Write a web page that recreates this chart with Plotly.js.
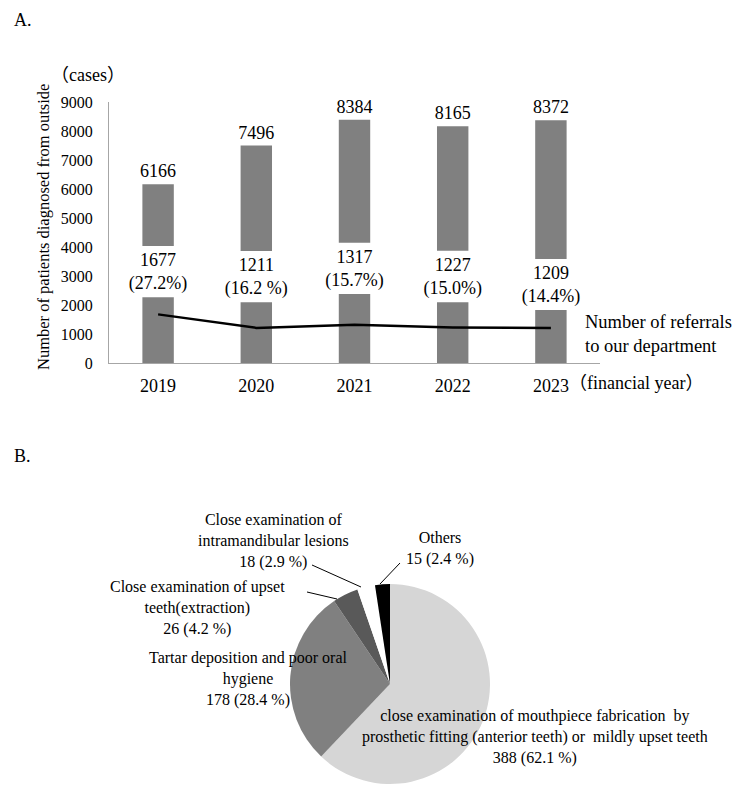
<!DOCTYPE html>
<html>
<head>
<meta charset="utf-8">
<script src="https://cdn.plot.ly/plotly-3.0.1.min.js"></script>
<style>
  html, body { margin: 0; padding: 0; background: #fff; }
  #chart { width: 750px; height: 791px; }
</style>
</head>
<body>
<div id="chart"></div>
<script>
// ---- Panel A: outside diagnoses and referrals per financial year ----
const years = ['2019', '2020', '2021', '2022', '2023'];
const totalDiagnosed = [6166, 7496, 8384, 8165, 8372];
const referrals = [1677, 1211, 1317, 1227, 1209];
const referralShare = ['(27.2%)', '(16.2 %)', '(15.7%)', '(15.0%)', '(14.4%)'];
// values where each bar is visually broken (lower piece top, upper piece bottom)
const breakLow = [2265, 2093, 2379, 2093, 1828];
const breakHigh = [4034, 3862, 4148, 3872, 3586];

// ---- Panel B: breakdown of referral reasons ----
const reasonLabels = [
  'close examination of mouthpiece fabrication  by<br>prosthetic fitting (anterior teeth) or  mildly upset teeth',
  'Tartar deposition and poor oral<br>hygiene',
  'Close examination of upset<br>teeth(extraction)',
  'Close examination of<br>intramandibular lesions',
  'Others'
];
const reasonCounts = [388, 178, 26, 18, 15];
const reasonShare = ['62.1 %', '28.4 %', '4.2 %', '2.9 %', '2.4 %'];

const W = 750, H = 791;
const px = x => x / W;
const py = y => 1 - y / H;
const SERIF = 'Liberation Serif, Noto Sans CJK JP, serif';
const BAR = '#808080';

const lowerPiece = {
  type: 'bar', x: years, y: breakLow, base: 0, width: 0.32,
  marker: { color: BAR, line: { width: 0 } },
  text: referrals.map((v, i) => v + '<br>' + referralShare[i]),
  textposition: 'outside', cliponaxis: false, constraintext: 'none',
  textfont: { family: SERIF, size: 18, color: '#000' },
  hoverinfo: 'skip', showlegend: false
};
const upperPiece = {
  type: 'bar', x: years, y: totalDiagnosed.map((t, i) => t - breakHigh[i]), base: breakHigh,
  width: 0.32, marker: { color: BAR, line: { width: 0 } },
  text: totalDiagnosed.map(String), textposition: 'outside', cliponaxis: false, constraintext: 'none',
  textfont: { family: SERIF, size: 18, color: '#000' },
  hoverinfo: 'skip', showlegend: false
};
const referralLine = {
  type: 'scatter', mode: 'lines', x: years, y: referrals,
  line: { color: '#000', width: 2.5 }, hoverinfo: 'skip', showlegend: false
};

// pie geometry: centre (390, 684), radius 100
const pie = {
  type: 'pie', values: reasonCounts, labels: reasonLabels,
  sort: false, direction: 'clockwise', rotation: 0,
  textinfo: 'none', hoverinfo: 'skip', showlegend: false,
  marker: { colors: ['#d6d6d6', '#808080', '#595959', '#ffffff', '#000000'], line: { width: 0 } },
  domain: { x: [px(290), px(490)], y: [py(784), py(584)] }
};

function note(text, x, y, opts) {
  return Object.assign({
    text: text, xref: 'paper', yref: 'paper', x: px(x), y: py(y),
    xanchor: 'center', yanchor: 'middle', showarrow: false,
    font: { family: SERIF, size: 18, color: '#000' }
  }, opts || {});
}

const pieFont = { family: SERIF, size: 16, color: '#000' };
const annotations = [
  note('A.', 12, 20, { xanchor: 'left' }),
  note('B.', 12, 456, { xanchor: 'left' }),
  note('（cases）', 88, 75),
  note('（financial year）', 636, 383),
  note('Number of referrals<br>to our department', 583, 334, { xanchor: 'left', align: 'left', font: { family: SERIF, size: 18.5, color: '#000' } }),
  note('Number of patients diagnosed from outside', 43, 227, { textangle: -90, font: { family: SERIF, size: 16.5, color: '#000' } }),
  note(reasonLabels[3] + '<br>' + reasonCounts[3] + ' (' + reasonShare[3] + ')', 273, 541, { font: pieFont }),
  note(reasonLabels[4] + '<br>' + reasonCounts[4] + ' (' + reasonShare[4] + ')', 440, 548, { font: pieFont }),
  note(reasonLabels[2] + '<br>' + reasonCounts[2] + ' (' + reasonShare[2] + ')', 197, 608, { font: pieFont }),
  note(reasonLabels[1] + '<br>' + reasonCounts[1] + ' (' + reasonShare[1] + ')', 248, 679, { font: pieFont }),
  note(reasonLabels[0] + '<br>' + reasonCounts[0] + ' (' + reasonShare[0] + ')', 535, 737, { font: pieFont })
];

// leader lines from the small-slice labels to their slices
const leader = (x0, y0, x1, y1) => ({
  type: 'line', xref: 'paper', yref: 'paper',
  x0: px(x0), y0: py(y0), x1: px(x1), y1: py(y1),
  line: { color: '#000', width: 1 }
});
const shapes = [
  leader(312, 565, 361, 587),
  leader(400, 563, 380, 584),
  leader(307, 592, 337, 599)
];

const layout = {
  width: W, height: H,
  margin: { l: 0, r: 0, t: 0, b: 0 },
  paper_bgcolor: '#fff', plot_bgcolor: 'rgba(0,0,0,0)',
  barmode: 'overlay',
  font: { family: SERIF, color: '#000' },
  xaxis: {
    type: 'category', domain: [px(109), px(600)], range: [-0.5, 4.5],
    showline: true, linecolor: '#a6a6a6', linewidth: 1,
    ticks: '', showgrid: false, zeroline: false,
    tickfont: { family: SERIF, size: 18, color: '#000' }, ticklabelstandoff: 6
  },
  yaxis: {
    domain: [py(363), py(102)], range: [0, 9000], dtick: 1000,
    showline: true, linecolor: '#a6a6a6', linewidth: 1,
    ticks: '', showgrid: false, zeroline: false,
    tickfont: { family: SERIF, size: 16, color: '#000' }, ticklabelstandoff: 12
  },
  annotations: annotations,
  shapes: shapes
};

Plotly.newPlot('chart', [lowerPiece, upperPiece, referralLine, pie], layout, { staticPlot: true });
</script>
</body>
</html>
